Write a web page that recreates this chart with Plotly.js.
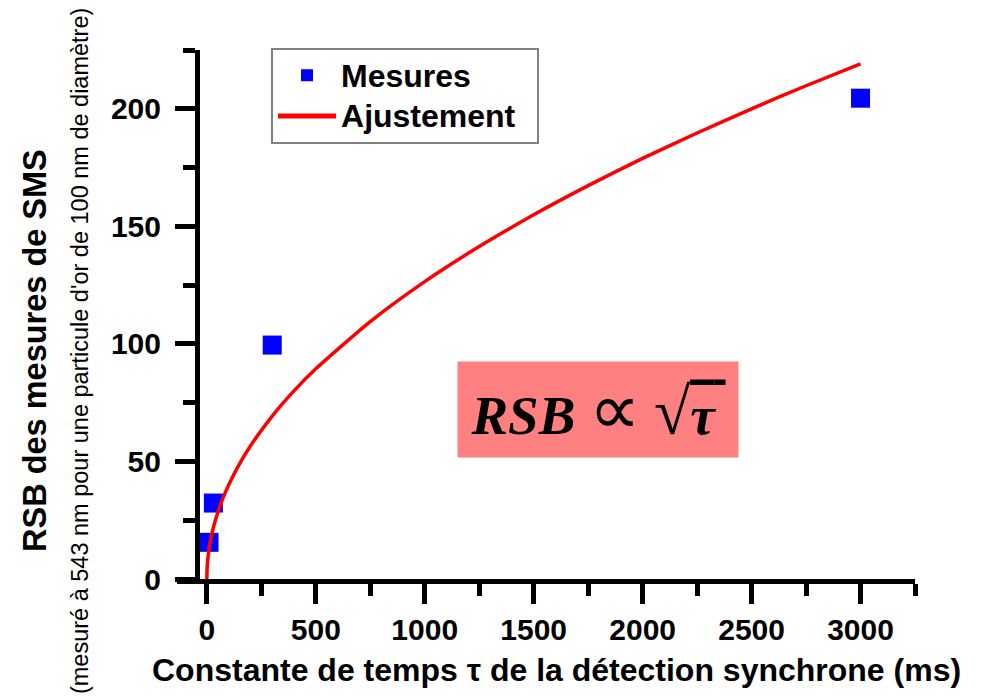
<!DOCTYPE html>
<html>
<head>
<meta charset="utf-8">
<script src="https://cdn.plot.ly/plotly-3.0.1.min.js"></script>
<style>
  html, body { margin: 0; padding: 0; background: #ffffff; }
  #chart { width: 983px; height: 696px; }
</style>
</head>
<body>
<div id="chart"></div>
<script>
// Measured points (time constant in ms, SNR)
const tauMesures = [10, 30, 300, 3000];
const rsbMesures = [15.6, 32.3, 99.5, 204.5];

// Fitted curve
const tauAjust = [0, 1, 2, 5, 10, 20, 30, 50, 75, 100, 150, 200, 300, 400, 500, 750, 1000, 1250, 1500, 1750, 2000, 2250, 2500, 2750, 3000];
const rsbAjust = [0, 4.0, 5.7, 8.9, 12.6, 17.9, 21.9, 28.3, 34.6, 40.0, 49.0, 56.6, 69.3, 80.0, 89.4, 109.5, 126.5, 141.4, 154.9, 167.3, 178.9, 189.7, 200.0, 209.8, 219.1];

// Tick labels
const xTicks = [0, 500, 1000, 1500, 2000, 2500, 3000];
const yTicks = [0, 50, 100, 150, 200];

const seriesNames = ['Mesures', 'Ajustement'];
const xTitle = 'Constante de temps τ de la détection synchrone (ms)';
const yTitle = 'RSB des mesures de SMS';
const ySubTitle = "(mesuré à 543 nm pour une particule d'or de 100 nm de diamètre)";

const FONT = '"Liberation Sans", Arial, Helvetica, sans-serif';
const SERIF = '"Liberation Serif", "Times New Roman", serif';

const big = s => '<span style="font-size:32px">' + s + '\u2002</span>';

const traces = [
  {
    x: tauMesures, y: rsbMesures, name: big(seriesNames[0]),
    type: 'scatter', mode: 'markers',
    marker: { symbol: 'square', size: 19, color: '#0000ff', line: { width: 0 } },
    cliponaxis: false
  },
  {
    x: tauAjust, y: rsbAjust, name: big(seriesNames[1]),
    type: 'scatter', mode: 'lines',
    line: { color: '#ff0000', width: 3.5, shape: 'spline', smoothing: 0.6 },
    cliponaxis: false
  }
];

const layout = {
  width: 983, height: 696,
  margin: { l: 177, r: 68, t: 50, b: 117 },
  paper_bgcolor: '#ffffff', plot_bgcolor: '#ffffff',
  font: { family: FONT, color: '#000000' },
  showlegend: true,
  legend: {
    x: 0.1274, y: 1.004, xanchor: 'left', yanchor: 'top',
    bgcolor: '#ffffff', bordercolor: '#808080', borderwidth: 2,
    font: { family: FONT, size: 29, weight: 'bold', color: '#000000' },
    itemsizing: 'constant', itemwidth: 58, tracegroupgap: 0
  },
  xaxis: {
    range: [-137, 3250],
    tickvals: xTicks, ticktext: xTicks.map(String),
    ticks: 'outside', ticklen: 20, tickwidth: 5, tickcolor: '#000000',
    minor: { dtick: 250, tick0: 0, ticks: 'outside', ticklen: 12, tickwidth: 5, tickcolor: '#000000', showgrid: false },
    showline: true, linecolor: '#000000', linewidth: 5,
    showgrid: false, zeroline: false,
    tickfont: { family: FONT, size: 30, weight: 'bold', color: '#000000' },
    anchor: 'y'
  },
  yaxis: {
    range: [0, 225],
    tickvals: yTicks, ticktext: yTicks.map(String),
    ticks: 'outside', ticklen: 20, tickwidth: 5, tickcolor: '#000000',
    minor: { dtick: 25, tick0: 0, ticks: 'outside', ticklen: 12, tickwidth: 5, tickcolor: '#000000', showgrid: false },
    showline: true, linecolor: '#000000', linewidth: 5,
    showgrid: false, zeroline: false,
    tickfont: { family: FONT, size: 30, weight: 'bold', color: '#000000' },
    anchor: 'free', position: 0.0271,
    ticklabelstandoff: 8
  },
  annotations: [
    {
      xref: 'paper', yref: 'paper', x: 0.5136, y: -0.172,
      xanchor: 'center', yanchor: 'middle', showarrow: false,
      text: xTitle,
      font: { family: FONT, size: 32, weight: 'bold', color: '#000000' }
    },
    {
      xref: 'paper', yref: 'paper', x: -0.1924, y: 0.431,
      xanchor: 'center', yanchor: 'middle', showarrow: false, textangle: -90,
      text: yTitle,
      font: { family: FONT, size: 32.5, weight: 'bold', color: '#000000' }
    },
    {
      xref: 'paper', yref: 'paper', x: -0.1314, y: 0.431,
      xanchor: 'center', yanchor: 'middle', showarrow: false, textangle: -90,
      text: ySubTitle,
      font: { family: FONT, size: 23.5, color: '#000000' }
    },
    {
      xref: 'paper', yref: 'paper', x: 0.5705, y: 0.3204,
      xanchor: 'center', yanchor: 'middle', showarrow: false,
      width: 280, height: 95, borderpad: 0,
      bgcolor: '#ff8080',
      text: '<b><i>RSB</i></b> <span style="font-size:72px">∝</span> <span style="font-size:66px">√</span><span style="text-decoration:overline"><b><i>τ</i></b>\u2009</span>',
      font: { family: SERIF, size: 55, color: '#000000' }
    }
  ]
};

Plotly.newPlot('chart', traces, layout, { displayModeBar: false, staticPlot: true });
</script>
</body>
</html>
